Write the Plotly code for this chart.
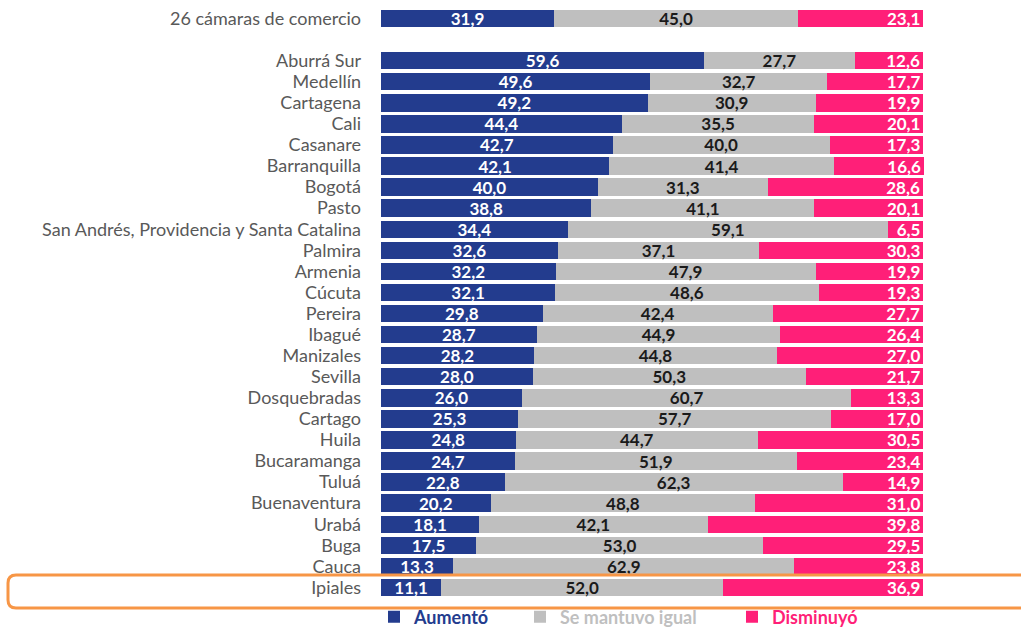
import plotly.graph_objects as go

categories = ["26 cámaras de comercio", "", "Aburrá Sur", "Medellín", "Cartagena", "Cali", "Casanare",
              "Barranquilla", "Bogotá", "Pasto", "San Andrés, Providencia y Santa Catalina",
              "Palmira", "Armenia", "Cúcuta", "Pereira", "Ibagué", "Manizales", "Sevilla",
              "Dosquebradas", "Cartago", "Huila", "Bucaramanga", "Tuluá", "Buenaventura",
              "Urabá", "Buga", "Cauca", "Ipiales"]
aumento = [31.9, None, 59.6, 49.6, 49.2, 44.4, 42.7, 42.1, 40.0, 38.8, 34.4, 32.6, 32.2, 32.1,
           29.8, 28.7, 28.2, 28.0, 26.0, 25.3, 24.8, 24.7, 22.8, 20.2, 18.1, 17.5, 13.3, 11.1]
igual = [45.0, None, 27.7, 32.7, 30.9, 35.5, 40.0, 41.4, 31.3, 41.1, 59.1, 37.1, 47.9, 48.6,
         42.4, 44.9, 44.8, 50.3, 60.7, 57.7, 44.7, 51.9, 62.3, 48.8, 42.1, 53.0, 62.9, 52.0]
disminuyo = [23.1, None, 12.6, 17.7, 19.9, 20.1, 17.3, 16.6, 28.6, 20.1, 6.5, 30.3, 19.9, 19.3,
             27.7, 26.4, 27.0, 21.7, 13.3, 17.0, 30.5, 23.4, 14.9, 31.0, 39.8, 29.5, 23.8, 36.9]
series_names = ["Aumentó", "Se mantuvo igual", "Disminuyó"]
colors = ["#233C8E", "#BFBFBF", "#FF1F78"]
text_colors = ["white", "#1a1a1a", "white"]
anchors = ["middle", "middle", "end"]

pos = list(range(len(categories)))

W, H = 1021, 627
ml, mr, mt, mb = 381, 97, 8, 29
pw = W - ml - mr
ph = H - mt - mb


def px_x(x):
    return (x - ml) / pw


def px_y(y):
    return (H - mb - y) / ph


def fmt(v):
    return "" if v is None else f"<b>{v:.1f}</b>".replace(".", ",")


fig = go.Figure()
legend_ids = ["legend", "legend2", "legend3"]
for name, vals, col, tcol, anc, lid in zip(series_names, [aumento, igual, disminuyo], colors,
                                           text_colors, anchors, legend_ids):
    fig.add_trace(go.Bar(
        y=pos, x=vals, orientation="h", name=f"<b><span style='color:{col}'>{name}</span></b>",
        legend=lid,
        marker=dict(color=col, line=dict(width=0)),
        text=[fmt(v) for v in vals], textposition="inside", insidetextanchor=anc,
        textfont=dict(color=tcol, size=17, family="Lato"), textangle=0,
        constraintext="none", cliponaxis=False,
    ))

x0, x1, y0, y1, r = 8, 1050, 575, 608, 8
rx = r / pw
ry = r / ph
X0, X1, Y0, Y1 = px_x(x0), px_x(x1), px_y(y1), px_y(y0)
path = (f"M {X0+rx} {Y1} L {X1-rx} {Y1} Q {X1} {Y1} {X1} {Y1-ry} L {X1} {Y0+ry} Q {X1} {Y0} {X1-rx} {Y0} "
        f"L {X0+rx} {Y0} Q {X0} {Y0} {X0} {Y0+ry} L {X0} {Y1-ry} Q {X0} {Y1} {X0+rx} {Y1} Z")

legend_x = [402, 548, 760]


def leg(xpx):
    return dict(orientation="h", x=px_x(xpx - 28), xanchor="left", y=px_y(617), yanchor="middle",
                font=dict(family="Lato", size=18), bgcolor="rgba(0,0,0,0)", itemwidth=30)


fig.update_layout(
    width=W, height=H, barmode="stack", bargap=0.17,
    margin=dict(l=ml, r=mr, t=mt, b=mb, autoexpand=False),
    plot_bgcolor="white", paper_bgcolor="white",
    font=dict(family="Lato", size=18, color="#595959"),
    xaxis=dict(visible=False, range=[0, 100.1], fixedrange=True),
    yaxis=dict(tickmode="array", tickvals=pos, ticktext=categories, autorange=False,
               range=[len(categories) - 0.5, -0.5], showgrid=False, zeroline=False,
               showline=False, ticks="", ticklabelstandoff=19, ticklabeloverflow="allow",
               tickfont=dict(family="Lato", size=18, color="#595959")),
    showlegend=True,
    legend=leg(legend_x[0]), legend2=leg(legend_x[1]), legend3=leg(legend_x[2]),
    shapes=[dict(type="path", path=path, xref="paper", yref="paper",
                 line=dict(color="#F79646", width=3), fillcolor="rgba(0,0,0,0)", layer="above")],
)

fig.write_html("out.html", config={"displayModeBar": False},
               post_script="document.body.style.margin='0px';document.body.style.overflow='hidden';")
